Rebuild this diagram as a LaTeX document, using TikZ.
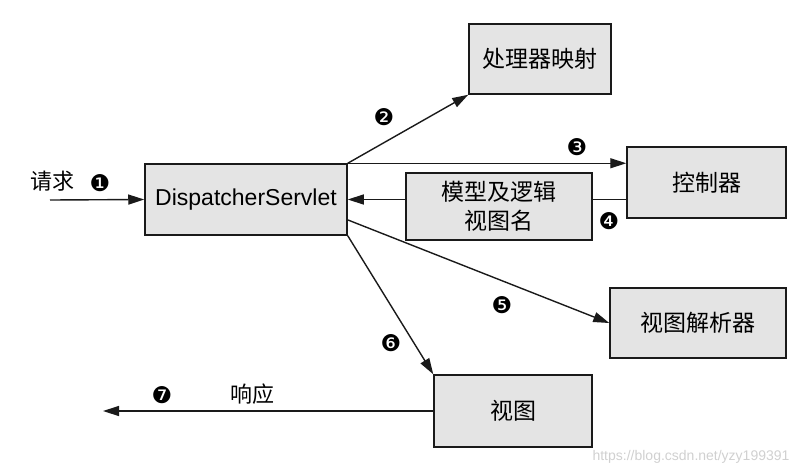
\documentclass[tikz,border=0pt]{standalone}
\usepackage{fontspec}
\setmainfont{Liberation Sans}
\newfontfamily\cjk{Noto Sans CJK SC}
\newfontfamily\dings{DejaVu Sans}
\usepackage{tikz}
\usetikzlibrary{arrows.meta}
\definecolor{boxgray}{HTML}{E4E4E4}
\definecolor{linegray}{HTML}{1A1A1A}
\definecolor{markgray}{HTML}{D0D0D0}
\tikzset{
  box/.style={rectangle, draw=linegray, line width=1.5pt, fill=boxgray, inner sep=0pt, align=center, font=\cjk\fontsize{23}{29}\selectfont},
  flow/.style={draw=linegray, line width=1.4pt, -{Triangle[length=16pt,width=10pt]}},
  plainflow/.style={draw=linegray, line width=1.4pt},
  stepnum/.style={inner sep=0pt, font=\dings\fontsize{23}{23}\selectfont},
  caption/.style={inner sep=0pt, font=\cjk\fontsize{22}{22}\selectfont}
}
\newcommand{\mvcbox}[5] {\node at (#1) (#2) [box, minimum width=#3pt, minimum height=#4pt] {#5};}
\newcommand{\mvcstep}[3] {\node at (#1) (#2) [stepnum] {#3};}
\newcommand{\mvcflow}[2] {\draw [flow] (#1) -- (#2);}

\begin{document}
\begin{tikzpicture}[x=1pt,y=-1pt]
\useasboundingbox (0,0) rectangle (810,474);

\mvcbox {246,199.5}{ds}{202}{71}{\rmfamily DispatcherServlet}
\mvcbox {540,59}{hmap}{142}{70}{处理器映射}
\mvcbox {706.5,182.5}{ctrl}{159}{71}{控制器}
\mvcbox {499,206.5}{mview}{186}{67}{模型及逻辑\\视图名}
\mvcbox {698,323}{vres}{176}{70}{视图解析器}
\mvcbox {513,411}{view}{158}{72}{视图}

% request in
\coordinate (req) at (50,200);
\node at (52,181) (reqtext) [caption] {请求};
\mvcstep {100,183}{s1}{❶}
\mvcflow {req}{ds.west}

% handler mapping and controller
\mvcstep {384,117}{s2}{❷}
\mvcflow {ds.north east}{hmap.south west}
\mvcstep {577,147}{s3}{❸}
\mvcflow {ds.north east}{ds.north east -| ctrl.west}

% model and view name back
\mvcstep {609,221}{s4}{❹}
\draw [plainflow] (ds.east -| ctrl.west) -- (ds.east -| mview.east);
\mvcflow {ds.east -| mview.west}{ds.east}

% view resolver and view
\coordinate (dsout) at (348,220);
\mvcstep {502,305}{s5}{❺}
\mvcflow {dsout}{vres.west}
\mvcstep {391,343}{s6}{❻}
\mvcflow {ds.south east}{view.north west}

% response out
\coordinate (resp) at (103,411);
\node at (252,394) (resptext) [caption] {响应};
\mvcstep {162,395}{s7}{❼}
\mvcflow {view.west}{resp}

\node at (691,457) (wmark) [text=markgray, font=\fontsize{14}{14}\selectfont] {https://blog.csdn.net/yzy199391};

\end{tikzpicture}
\end{document}
